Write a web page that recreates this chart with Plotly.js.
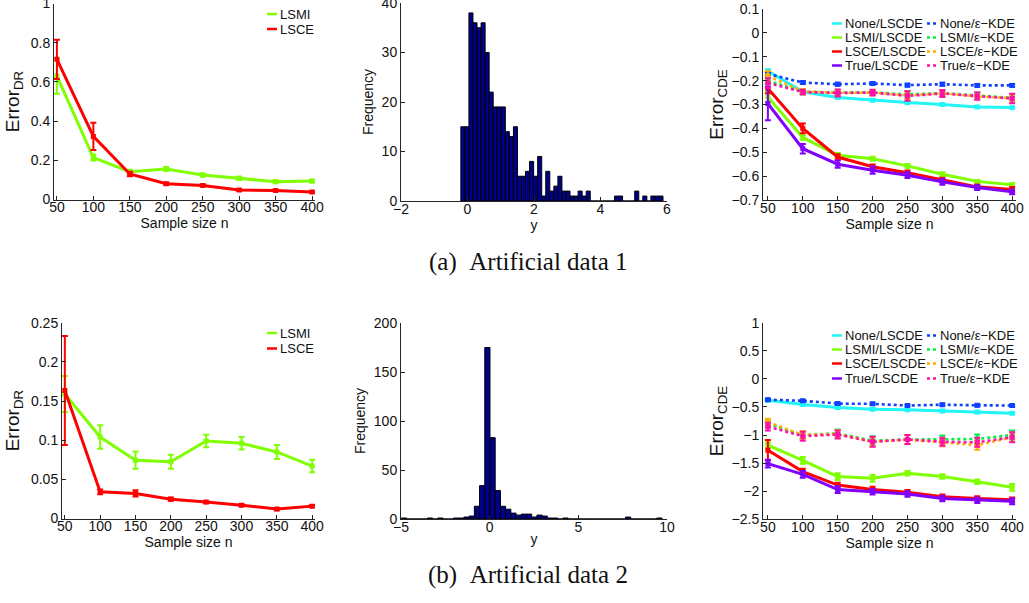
<!DOCTYPE html>
<html>
<head>
<meta charset="utf-8">
<script src="https://cdn.plot.ly/plotly-3.0.1.min.js"></script>
<style>html,body{margin:0;padding:0;background:#fff;}#chart{width:1029px;height:603px;}</style>
</head>
<body>
<div id="chart"></div>
<script>
// ---------------- data ----------------
const sampleSizes = [50, 100, 150, 200, 250, 300, 350, 400];

// (a) Artificial data 1 : Error_DR
const dr1LSMI    = [0.630, 0.214, 0.142, 0.156, 0.125, 0.108, 0.091, 0.094];
const dr1LSMIErr = [0.090, 0.015, 0.010, 0.010, 0.008, 0.008, 0.007, 0.007];
const dr1LSCE    = [0.715, 0.322, 0.130, 0.080, 0.072, 0.048, 0.046, 0.038];
const dr1LSCEErr = [0.100, 0.070, 0.012, 0.006, 0.006, 0.004, 0.004, 0.004];
const dr1YTicks  = [0, 0.2, 0.4, 0.6, 0.8, 1];

// (a) histogram of y (50 bins)
const hist1Start = -0.2;
const hist1Width = 0.1216;
const hist1Counts = [15,15,38,36,35,36,30,22,19,19,
                     19,14,13,15,5,5,6,8,5,9,
                     1,6,2,3,5,2,2,1,1,2,
                     1,2,0,0,0,0,0,0,1,1,
                     0,0,0,2,0,1,0,1,1,1];

// (a) Error_CDE
const cde1NoneLSCDE = [-0.160, -0.247, -0.271, -0.282, -0.292, -0.300, -0.310, -0.313];
const cde1LSMILSCDE = [-0.268, -0.438, -0.513, -0.527, -0.557, -0.592, -0.622, -0.636];
const cde1LSCELSCDE = [-0.233, -0.400, -0.520, -0.561, -0.586, -0.617, -0.645, -0.656];
const cde1TrueLSCDE = [-0.296, -0.485, -0.550, -0.575, -0.596, -0.624, -0.648, -0.666];
const cde1NoneKDE   = [-0.172, -0.208, -0.215, -0.212, -0.219, -0.215, -0.220, -0.220];
const cde1LSMIKDE   = [-0.200, -0.247, -0.250, -0.249, -0.258, -0.252, -0.262, -0.272];
const cde1LSCEKDE   = [-0.180, -0.245, -0.251, -0.250, -0.262, -0.253, -0.266, -0.273];
const cde1TrueKDE   = [-0.210, -0.248, -0.252, -0.250, -0.264, -0.254, -0.265, -0.275];
const cde1NoneLSCDEErr = [0.008, 0.004, 0.004, 0.004, 0.004, 0.004, 0.004, 0.004];
const cde1LSMILSCDEErr = [0.020, 0.010, 0.010, 0.008, 0.008, 0.008, 0.006, 0.006];
const cde1LSCELSCDEErr = [0.020, 0.020, 0.012, 0.010, 0.010, 0.010, 0.010, 0.010];
const cde1TrueLSCDEErr = [0.070, 0.020, 0.015, 0.015, 0.012, 0.012, 0.010, 0.010];
const cde1NoneKDEErr   = [0.008, 0.006, 0.006, 0.006, 0.006, 0.006, 0.006, 0.006];
const cde1LSMIKDEErr   = [0.015, 0.010, 0.012, 0.010, 0.015, 0.012, 0.012, 0.015];
const cde1LSCEKDEErr   = [0.020, 0.010, 0.012, 0.010, 0.015, 0.012, 0.012, 0.015];
const cde1TrueKDEErr   = [0.020, 0.010, 0.015, 0.012, 0.020, 0.015, 0.015, 0.020];

// (b) Artificial data 2 : Error_DR
const dr2LSMI    = [0.159, 0.104, 0.0745, 0.0724, 0.099, 0.096, 0.085, 0.067];
const dr2LSMIErr = [0.023, 0.015, 0.011, 0.009, 0.008, 0.008, 0.009, 0.008];
const dr2LSCE    = [0.1635, 0.034, 0.032, 0.0247, 0.021, 0.017, 0.012, 0.0158];
const dr2LSCEErr = [0.0695, 0.003, 0.004, 0.002, 0.0015, 0.0015, 0.0015, 0.0015];

// (b) histogram of y (50 bins)
const hist2Start = -4.98;
const hist2Width = 0.294;
const hist2Counts = [1,0,0,0,0,1,0,1,0,0,
                     1,1,2,3,13,34,175,83,29,13,
                     10,6,4,5,5,2,4,3,1,1,
                     0,1,0,0,0,0,0,0,0,0,
                     0,0,0,2,0,0,0,0,0,1];

// (b) Error_CDE
const cde2NoneLSCDE = [-0.38, -0.457, -0.51, -0.54, -0.55, -0.57, -0.59, -0.61];
const cde2LSMILSCDE = [-1.18, -1.45, -1.74, -1.77, -1.68, -1.74, -1.83, -1.93];
const cde2LSCELSCDE = [-1.27, -1.65, -1.89, -1.97, -2.02, -2.10, -2.13, -2.15];
const cde2TrueLSCDE = [-1.51, -1.70, -1.97, -2.01, -2.05, -2.13, -2.16, -2.18];
const cde2NoneKDE   = [-0.37, -0.39, -0.44, -0.445, -0.475, -0.46, -0.47, -0.475];
const cde2LSMIKDE   = [-0.80, -1.00, -0.97, -1.10, -1.08, -1.08, -1.07, -1.00];
const cde2LSCEKDE   = [-0.77, -1.00, -0.98, -1.12, -1.08, -1.13, -1.18, -1.04];
const cde2TrueKDE   = [-0.85, -1.02, -0.99, -1.12, -1.08, -1.12, -1.13, -1.04];
const cde2NoneLSCDEErr = [0.02, 0.02, 0.02, 0.02, 0.02, 0.02, 0.02, 0.02];
const cde2LSMILSCDEErr = [0.05, 0.06, 0.06, 0.06, 0.04, 0.04, 0.04, 0.06];
const cde2LSCELSCDEErr = [0.18, 0.05, 0.04, 0.05, 0.04, 0.04, 0.04, 0.04];
const cde2TrueLSCDEErr = [0.07, 0.06, 0.06, 0.05, 0.05, 0.05, 0.05, 0.05];
const cde2NoneKDEErr   = [0.02, 0.02, 0.02, 0.02, 0.02, 0.02, 0.02, 0.02];
const cde2LSMIKDEErr   = [0.06, 0.07, 0.07, 0.08, 0.08, 0.07, 0.08, 0.08];
const cde2LSCEKDEErr   = [0.06, 0.07, 0.07, 0.08, 0.08, 0.07, 0.08, 0.08];
const cde2TrueKDEErr   = [0.07, 0.08, 0.07, 0.09, 0.08, 0.07, 0.08, 0.09];

const drLabels  = ['LSMI', 'LSCE'];
const cdeLabels = ['None/LSCDE', 'LSMI/LSCDE', 'LSCE/LSCDE', 'True/LSCDE',
                   'None/\u03b5\u2212KDE', 'LSMI/\u03b5\u2212KDE', 'LSCE/\u03b5\u2212KDE', 'True/\u03b5\u2212KDE'];

// ---------------- styles ----------------
const W = 1029, H = 603;
const FONT = 'Liberation Sans, Arial, sans-serif';
const AXC = '#262626';
const drColors  = ['#80FF00', '#FF0000'];
const cdeColors = ['#22F5F5', '#80FF00', '#FF0000', '#8000FF', '#1040FF', '#00F040', '#FFB000', '#FF10A8'];
const cdeDash   = ['solid', 'solid', 'solid', 'solid', 'dot', 'dot', 'dot', 'dot'];
const HIST_FILL = '#000088';

const X = px => px / W;
const Y = py => 1 - py / H;

function series(xa, ya, yv, err, color, dash) {
  return {
    type: 'scatter', mode: 'lines+markers', x: sampleSizes, y: yv,
    xaxis: xa, yaxis: ya, showlegend: false, hoverinfo: 'skip',
    line: {color: color, width: dash === 'dot' ? 2.6 : 3, dash: dash},
    marker: {symbol: 'square', size: 5, color: color},
    error_y: {type: 'data', array: err, visible: true, color: color, thickness: 2, width: 3}
  };
}
function histTrace(xa, ya, start, width, counts) {
  return {
    type: 'bar', xaxis: xa, yaxis: ya, showlegend: false, hoverinfo: 'skip',
    x: counts.map((c, i) => start + (i + 0.5) * width), y: counts, width: width,
    marker: {color: HIST_FILL, line: {color: '#000', width: 1}}
  };
}

const traces = [
  series('x', 'y', dr1LSMI, dr1LSMIErr, drColors[0], 'solid'),
  series('x', 'y', dr1LSCE, dr1LSCEErr, drColors[1], 'solid'),
  histTrace('x2', 'y2', hist1Start, hist1Width, hist1Counts),
];
const cde1 = [cde1NoneLSCDE, cde1LSMILSCDE, cde1LSCELSCDE, cde1TrueLSCDE, cde1NoneKDE, cde1LSMIKDE, cde1LSCEKDE, cde1TrueKDE];
const cde1E = [cde1NoneLSCDEErr, cde1LSMILSCDEErr, cde1LSCELSCDEErr, cde1TrueLSCDEErr, cde1NoneKDEErr, cde1LSMIKDEErr, cde1LSCEKDEErr, cde1TrueKDEErr];
cde1.forEach((s, i) => traces.push(series('x3', 'y3', s, cde1E[i], cdeColors[i], cdeDash[i])));
traces.push(series('x4', 'y4', dr2LSMI, dr2LSMIErr, drColors[0], 'solid'));
traces.push(series('x4', 'y4', dr2LSCE, dr2LSCEErr, drColors[1], 'solid'));
traces.push(histTrace('x5', 'y5', hist2Start, hist2Width, hist2Counts));
const cde2 = [cde2NoneLSCDE, cde2LSMILSCDE, cde2LSCELSCDE, cde2TrueLSCDE, cde2NoneKDE, cde2LSMIKDE, cde2LSCEKDE, cde2TrueKDE];
const cde2E = [cde2NoneLSCDEErr, cde2LSMILSCDEErr, cde2LSCELSCDEErr, cde2TrueLSCDEErr, cde2NoneKDEErr, cde2LSMIKDEErr, cde2LSCEKDEErr, cde2TrueKDEErr];
cde2.forEach((s, i) => traces.push(series('x6', 'y6', s, cde2E[i], cdeColors[i], cdeDash[i])));

function axis(domain, range, extra) {
  return Object.assign({
    domain: domain, range: range, showline: true, linecolor: AXC, linewidth: 1,
    ticks: 'inside', ticklen: 4, tickcolor: AXC, showgrid: false, zeroline: false,
    ticklabeloverflow: 'allow',
    tickfont: {family: FONT, size: 14, color: '#111'}, automargin: false, fixedrange: true
  }, extra || {});
}
const xTitle = t => ({text: t, font: {family: FONT, size: 14, color: '#111'}, standoff: 0});
const yTitle = (t, size, so) => ({text: t, font: {family: FONT, size: size, color: '#111'}, standoff: so});
const XLS = -5;   // pull x tick labels towards the axis

const nTicks = {tickvals: sampleSizes, ticktext: sampleSizes.map(String), ticklabelstandoff: XLS};

const layout = {
  width: W, height: H, margin: {l: 0, r: 0, t: 0, b: 0},
  paper_bgcolor: '#fff', plot_bgcolor: '#fff', showlegend: false,
  xaxis:  axis([X(54), X(315)],  [46, 404], Object.assign({anchor: 'y',  title: xTitle('Sample size n')}, nTicks)),
  yaxis:  axis([Y(199.5), Y(3.5)], [0, 1.0001], {anchor: 'x', tickvals: dr1YTicks, ticktext: dr1YTicks.map(String),
            title: yTitle('Error<sub>DR</sub>', 19, 6)}),
  xaxis2: axis([X(401), X(667)], [-2, 6], {anchor: 'y2', dtick: 2, ticklabelstandoff: XLS, title: xTitle('y')}),
  yaxis2: axis([Y(201), Y(3)], [0, 40], {anchor: 'x2', dtick: 10, title: yTitle('Frequency', 14, 4)}),
  xaxis3: axis([X(763), X(1016)], [43, 405.5], Object.assign({anchor: 'y3', title: xTitle('Sample size n')}, nTicks)),
  yaxis3: axis([Y(200), Y(9)], [-0.7, 0.1], {anchor: 'x3', dtick: 0.1, title: yTitle('Error<sub>CDE</sub>', 19, 2)}),
  xaxis4: axis([X(62), X(315)],  [46, 404], Object.assign({anchor: 'y4', title: xTitle('Sample size n')}, nTicks)),
  yaxis4: axis([Y(518.5), Y(322.7)], [0, 0.25], {anchor: 'x4', dtick: 0.05, title: yTitle('Error<sub>DR</sub>', 19, 6)}),
  xaxis5: axis([X(401), X(667)], [-5, 10], {anchor: 'y5', dtick: 5, ticklabelstandoff: XLS, title: xTitle('y')}),
  yaxis5: axis([Y(519), Y(323)], [0, 200], {anchor: 'x5', dtick: 50, title: yTitle('Frequency', 14, 4)}),
  xaxis6: axis([X(763), X(1016)], [43, 405.5], Object.assign({anchor: 'y6', title: xTitle('Sample size n')}, nTicks)),
  yaxis6: axis([Y(519.3), Y(322.7)], [-2.5, 1], {anchor: 'x6', dtick: 0.5, title: yTitle('Error<sub>CDE</sub>', 19, 2)}),
  shapes: [], annotations: []
};

// legends (line key + text)
function legendItem(x0, x1, xt, py, color, dash, text) {
  layout.shapes.push({type: 'line', xref: 'paper', yref: 'paper', x0: X(x0), x1: X(x1), y0: Y(py), y1: Y(py),
    line: {color: color, width: dash === 'dot' ? 2.6 : 2.5, dash: dash}});
  layout.annotations.push({xref: 'paper', yref: 'paper', x: X(xt), y: Y(py), xanchor: 'left', yanchor: 'middle',
    text: text, showarrow: false, font: {family: FONT, size: 13, color: '#111'}});
}
[14, 29].forEach((py, i) => legendItem(267, 277, 278, py, drColors[i], 'solid', drLabels[i]));
[333, 348.5].forEach((py, i) => legendItem(267, 277, 278, py, drColors[i], 'solid', drLabels[i]));
const rowsTop = [23.5, 37.5, 51.5, 65.5];
const rowsBot = [335.5, 349.5, 363.5, 378.5];
[rowsTop, rowsBot].forEach(rows => {
  for (let i = 0; i < 8; i++) {
    const r = rows[i % 4];
    if (i < 4) legendItem(832, 842, 843, r, cdeColors[i], cdeDash[i], cdeLabels[i]);
    else legendItem(927, 937, 938, r, cdeColors[i], cdeDash[i], cdeLabels[i]);
  }
});

// captions
const capFont = {family: 'Liberation Serif, Times New Roman, serif', size: 25, color: '#111'};
layout.annotations.push({xref: 'paper', yref: 'paper', x: X(528), y: Y(262), xanchor: 'center', yanchor: 'middle',
  text: '(a)\u2002Artificial data 1', showarrow: false, font: capFont});
layout.annotations.push({xref: 'paper', yref: 'paper', x: X(528), y: Y(575), xanchor: 'center', yanchor: 'middle',
  text: '(b)\u2002Artificial data 2', showarrow: false, font: capFont});

Plotly.newPlot('chart', traces, layout, {staticPlot: true, displayModeBar: false});
</script>
</body>
</html>
